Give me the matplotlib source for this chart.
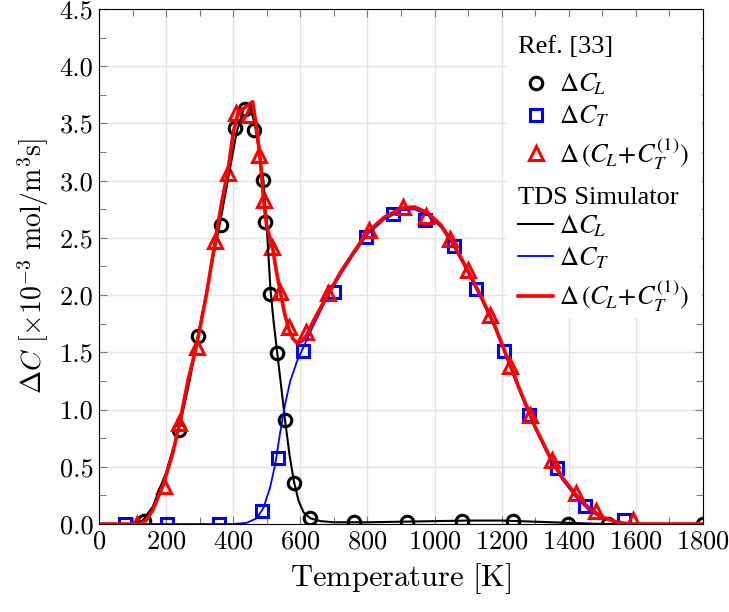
import numpy as np
import matplotlib.pyplot as plt
from matplotlib.ticker import MultipleLocator
from matplotlib.font_manager import FontProperties
from matplotlib.patches import Rectangle

plt.rcParams['font.family'] = 'serif'
plt.rcParams['font.serif'] = ['cmr10']
plt.rcParams['mathtext.fontset'] = 'cm'
plt.rcParams['axes.formatter.use_mathtext'] = True

# Ref. [33] data points
ref_L_T = [135, 238, 294, 364, 405, 436, 463, 489, 496, 511, 531, 554, 581, 630,
           761, 919, 1081, 1235, 1399, 1518, 1800]
ref_L_v = [0.03, 0.82, 1.64, 2.61, 3.46, 3.63, 3.44, 3.01, 2.64, 2.01, 1.49, 0.91, 0.36, 0.05,
           0.015, 0.02, 0.025, 0.025, 0.0, 0.0, 0.0]

ref_T_T = [77, 204, 358, 485, 532, 609, 700, 797, 877, 973, 1057, 1125, 1208, 1282,
           1364, 1449, 1564]
ref_T_v = [0.0, 0.0, 0.0, 0.11, 0.58, 1.51, 2.03, 2.51, 2.71, 2.66, 2.43, 2.05, 1.51, 0.95,
           0.49, 0.16, 0.035]

ref_S_T = [112, 194, 239, 291, 346, 383, 407, 448, 478, 491, 516, 539, 566, 617, 681,
           805, 907, 976, 1047, 1101, 1164, 1225, 1284, 1350, 1421, 1481, 1590]
ref_S_v = [0.0, 0.33, 0.88, 1.55, 2.47, 3.07, 3.59, 3.57, 3.22, 2.83, 2.42, 2.03, 1.72, 1.68, 2.02,
           2.57, 2.77, 2.69, 2.49, 2.22, 1.83, 1.38, 0.95, 0.56, 0.27, 0.11, 0.035]

# TDS Simulator curves
sim_L_T = [0, 100, 130, 160, 200, 240, 270, 300, 330, 360, 390, 410, 430, 442, 452, 465,
           480, 490, 500, 511, 520, 531, 543, 554, 568, 581, 595, 610, 630, 660, 700,
           800, 900, 1000, 1100, 1200, 1300, 1400, 1500, 1800]
sim_L_v = [0.0, 0.0, 0.03, 0.15, 0.45, 0.85, 1.25, 1.72, 2.18, 2.62, 3.1, 3.42, 3.62, 3.67, 3.64, 3.48,
           3.2, 3.0, 2.6, 2.05, 1.78, 1.5, 1.2, 0.92, 0.6, 0.37, 0.2, 0.1, 0.05, 0.025, 0.015,
           0.015, 0.02, 0.025, 0.03, 0.03, 0.02, 0.01, 0.0, 0.0]

sim_T_T = [0, 400, 440, 470, 490, 510, 525, 540, 555, 570, 590, 610, 640, 680, 720, 760,
           800, 850, 900, 940, 980, 1020, 1060, 1100, 1140, 1180, 1220, 1260, 1300,
           1340, 1380, 1420, 1460, 1500, 1540, 1580, 1800]
sim_T_v = [0.0, 0.0, 0.01, 0.05, 0.14, 0.32, 0.52, 0.8, 1.05, 1.25, 1.42, 1.55, 1.74, 1.98, 2.18, 2.36,
           2.53, 2.66, 2.74, 2.75, 2.7, 2.59, 2.41, 2.19, 1.96, 1.71, 1.41, 1.11, 0.83,
           0.59, 0.39, 0.24, 0.12, 0.05, 0.015, 0.0, 0.0]

sim_S_T = [0, 120, 140, 160, 190, 220, 240, 265, 290, 320, 345, 365, 385, 400, 415, 440,
           458, 470, 480, 490, 500, 517, 528, 541, 553, 566, 578, 591, 605, 619, 640, 681, 720, 760,
           800, 850, 900, 940, 980, 1020, 1060, 1100, 1140, 1180, 1220, 1260, 1300,
           1340, 1380, 1420, 1460, 1500, 1540, 1580, 1800]
sim_S_v = [0.0, 0.0, 0.03, 0.12, 0.33, 0.62, 0.88, 1.25, 1.55, 2.0, 2.45, 2.8, 3.1, 3.42, 3.6, 3.65,
           3.69, 3.45, 3.2, 2.85, 2.6, 2.42, 2.22, 2.02, 1.84, 1.7, 1.62, 1.58, 1.6, 1.65, 1.78, 2.0, 2.2, 2.38,
           2.55, 2.68, 2.76, 2.77, 2.72, 2.61, 2.43, 2.21, 1.98, 1.73, 1.43, 1.13, 0.85,
           0.61, 0.41, 0.26, 0.14, 0.06, 0.02, 0.0, 0.0]

lab_L = r'$\Delta C_{\!L}$'
lab_T = r'$\Delta C_T$'
lab_S = r'$\Delta\,(C_{\!L}\!+\!C_T^{(1)})$'

fig = plt.figure(figsize=(7.29, 6.12), dpi=100)
ax = fig.add_axes([0.1358, 0.1438, 0.8285, 0.8415])

m1, = ax.plot(ref_L_T, ref_L_v, 'o', mfc='none', mec='black', mew=2.2, ms=9, label=lab_L)
m2, = ax.plot(ref_T_T, ref_T_v, 's', mfc='none', mec='blue', mew=2.2, ms=8.5, label=lab_T)
m3, = ax.plot(ref_S_T, ref_S_v, '^', mfc='none', mec='red', mew=2.2, ms=9.5, label=lab_S)
l1, = ax.plot(sim_L_T, sim_L_v, color='black', lw=1.5, label=lab_L)
l2, = ax.plot(sim_T_T, sim_T_v, color='blue', lw=1.3, label=lab_T)
l3, = ax.plot(sim_S_T, sim_S_v, color='red', lw=2.6, label=lab_S)

ax.set_xlim(0, 1800)
ax.set_ylim(0, 4.5)
ax.xaxis.set_major_locator(MultipleLocator(200))
ax.xaxis.set_minor_locator(MultipleLocator(100))
ax.yaxis.set_major_locator(MultipleLocator(0.5))
ax.yaxis.set_minor_locator(MultipleLocator(0.25))
ax.yaxis.set_major_formatter(plt.FormatStrFormatter('%.1f'))
ax.tick_params(which='both', direction='in', top=True, right=True, labelsize=19,
               colors='#7a7a7a', labelcolor='black', width=0.8)
ax.tick_params(which='major', length=6, pad=4)
ax.tick_params(which='minor', length=5)
ax.grid(True, which='major', color='#e3e3e3', lw=1)
ax.set_axisbelow(True)

ax.set_xlabel(r'$\mathrm{Temperature\ [K]}$', fontsize=22, labelpad=6)
ax.set_ylabel(r'$\Delta C\ [\times 10^{-3}\ \mathrm{mol/m^3 s}]$', fontsize=20, labelpad=6)

# white panel behind the two legend blocks
ax.add_patch(Rectangle((0.675, 0.40), 0.324, 0.585, transform=ax.transAxes,
                       facecolor='white', edgecolor='none', zorder=4))

lprop = FontProperties(family='Liberation Serif', size=19, math_fontfamily='stix')
common = dict(prop=lprop, frameon=False, loc='upper left', handlelength=1.33,
              handletextpad=0.23, borderaxespad=0, borderpad=0)
leg1 = ax.legend(handles=[m1, m2, m3], bbox_to_anchor=(0.6937, 0.878),
                 labelspacing=0.24, **common)
leg1.set_zorder(5)
ax.add_artist(leg1)
leg2 = ax.legend(handles=[l1, l2, l3], bbox_to_anchor=(0.6937, 0.604),
                 labelspacing=0.27, **common)
leg2.set_zorder(5)

tfont = dict(family='Liberation Serif', size=19)
ax.text(0.6937, (524 - 53) / 515, 'Ref. [33]', transform=ax.transAxes, va='baseline',
        ha='left', zorder=6, **tfont)
ax.text(0.6937, (524 - 204) / 515, 'TDS Simulator', transform=ax.transAxes, va='baseline',
        ha='left', zorder=6, **tfont)

fig.savefig('out.png', dpi=100)
